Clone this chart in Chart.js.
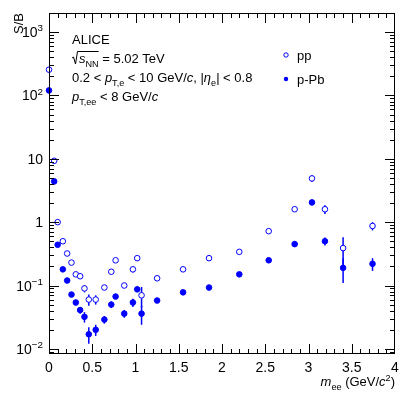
<!DOCTYPE html>
<html>
<head>
<meta charset="utf-8">
<script src="https://cdn.jsdelivr.net/npm/chart.js@4.4.1/dist/chart.umd.min.js"></script>
<style>
  body { margin: 0; background: #fff; }
</style>
</head>
<body>
<canvas id="chart" width="407" height="395"></canvas>
<script>
// m_ee bin centres (GeV/c^2), shared by both systems
const massBins = [0.0, 0.06, 0.1, 0.16, 0.21, 0.26, 0.31, 0.36, 0.41, 0.46, 0.54, 0.64, 0.72, 0.77,
  0.87, 0.97, 1.02, 1.07, 1.25, 1.55, 1.85, 2.2, 2.54, 2.84, 3.04, 3.19, 3.4, 3.74];

const ppRatio = [255, 9.3, 1.0, 0.5, 0.32, 0.23, 0.15, 0.14, 0.09, 0.06, 0.06, 0.093, 0.165, 0.25,
  0.10, 0.18, 0.27, 0.07, 0.13, 0.18, 0.27, 0.34, 0.72, 1.6, 4.9, 1.6, 0.39, 0.87];
const ppErr = [10, 0.5, 0.05, 0.03, 0.02, 0.015, 0.012, 0.012, 0.012, 0.012, 0.01, 0.008, 0.012, 0.015,
  0.008, 0.02, 0.02, 0.025, 0.008, 0.01, 0.015, 0.02, 0.04, 0.1, 0.6, 0.25, 0.19, 0.13];

const pPbRatio = [120, 4.4, 0.44, 0.18, 0.12, 0.072, 0.054, 0.041, 0.032, 0.017, 0.02, 0.029, 0.05, 0.067,
  0.036, 0.054, 0.087, 0.036, 0.058, 0.078, 0.093, 0.15, 0.25, 0.45, 2.05, 0.5, 0.19, 0.22];
const pPbErr = [5, 0.2, 0.02, 0.01, 0.008, 0.006, 0.005, 0.005, 0.006, 0.005, 0.004, 0.004, 0.006, 0.006,
  0.005, 0.008, 0.008, 0.012, 0.005, 0.006, 0.008, 0.01, 0.02, 0.03, 0.15, 0.07, 0.08, 0.05];

const yDecades = [-2, -1, 0, 1, 2, 3];
const seriesNames = ["pp", "p-Pb"];

const BLUE = "#0000ff";
const FONT = '"Liberation Sans", Arial, sans-serif';

// draw a run of text pieces: [text, style] with style n / i / sub / isub / sup
function richWidth(ctx, parts, size) {
  let w = 0;
  parts.forEach(([t, s]) => {
    const small = s === "sub" || s === "isub" || s === "sup";
    const italic = s === "i" || s === "isub";
    ctx.font = `${italic ? "italic " : ""}${small ? size * 0.7 : size}px ${FONT}`;
    w += ctx.measureText(t).width;
  });
  return w;
}

function drawRich(ctx, x, y, parts, size) {
  ctx.textAlign = "left";
  ctx.textBaseline = "alphabetic";
  parts.forEach(([t, s]) => {
    const small = s === "sub" || s === "isub" || s === "sup";
    const italic = s === "i" || s === "isub";
    ctx.font = `${italic ? "italic " : ""}${small ? size * 0.7 : size}px ${FONT}`;
    let dy = 0;
    if (s === "sub" || s === "isub") dy = size * 0.32;
    if (s === "sup") dy = -size * 0.42;
    ctx.fillText(t, x, y + dy);
    x += ctx.measureText(t).width;
  });
  return x;
}

const framePlugin = {
  id: "frame",
  beforeDatasetsDraw(chart) {
    const { ctx, chartArea: a } = chart;
    const ys = chart.scales.y;
    const errs = [ppErr, pPbErr];
    const vals = [ppRatio, pPbRatio];
    ctx.save();
    ctx.beginPath();
    ctx.rect(a.left, a.top, a.right - a.left, a.bottom - a.top);
    ctx.clip();
    ctx.strokeStyle = BLUE;
    ctx.lineWidth = 1.5;
    [0, 1].forEach((d) => {
      const meta = chart.getDatasetMeta(d);
      meta.data.forEach((pt, i) => {
        const hi = ys.getPixelForValue(vals[d][i] + errs[d][i]);
        const lo = ys.getPixelForValue(Math.max(vals[d][i] - errs[d][i], 1e-4));
        ctx.beginPath();
        ctx.moveTo(pt.x, hi);
        ctx.lineTo(pt.x, lo);
        ctx.stroke();
      });
    });
    ctx.restore();
  },
  afterDraw(chart) {
    const { ctx, chartArea: a } = chart;
    const xs = chart.scales.x;
    const ys = chart.scales.y;
    ctx.save();
    ctx.strokeStyle = "#000";
    ctx.lineWidth = 1;
    ctx.strokeRect(a.left + 0.5, a.top + 0.5, a.right - a.left - 1, a.bottom - a.top - 1);

    // x ticks, inside, bottom and top
    ctx.beginPath();
    for (let i = 1; i < 40; i++) {
      const px = Math.round(xs.getPixelForValue(i * 0.1)) + 0.5;
      const len = i % 5 === 0 ? 10 : 5;
      ctx.moveTo(px, a.bottom);
      ctx.lineTo(px, a.bottom - len);
      ctx.moveTo(px, a.top);
      ctx.lineTo(px, a.top + len);
    }
    // y log ticks, inside, left and right
    for (let d = -3; d <= 3; d++) {
      for (let k = 1; k <= 9; k++) {
        const v = k * Math.pow(10, d);
        if (v < ys.min || v > ys.max) continue;
        const py = Math.round(ys.getPixelForValue(v)) + 0.5;
        const len = k === 1 ? 10 : 5;
        ctx.moveTo(a.left, py);
        ctx.lineTo(a.left + len, py);
        ctx.moveTo(a.right, py);
        ctx.lineTo(a.right - len, py);
      }
    }
    ctx.stroke();

    // y tick labels 10^n
    ctx.fillStyle = "#000";
    yDecades.forEach((d) => {
      const py = ys.getPixelForValue(Math.pow(10, d));
      let parts;
      if (d === 0) parts = [["1", "n"]];
      else if (d === 1) parts = [["10", "n"]];
      else parts = [["10", "n"], [d < 0 ? "\u2212" + (-d) : String(d), "sup"]];
      const w = richWidth(ctx, parts, 14);
      drawRich(ctx, a.left - 6 - w, py + 5, parts, 14);
    });

    // axis titles
    ctx.save();
    ctx.translate(23, a.top);
    ctx.rotate(-Math.PI / 2);
    ctx.font = `13px ${FONT}`;
    ctx.textAlign = "right";
    ctx.fillText("S/B", 0, 0);
    ctx.restore();

    const xTitle = [["m", "i"], ["ee", "sub"], [" (GeV/", "n"], ["c", "i"], ["2", "sup"], [")", "n"]];
    drawRich(ctx, a.right - richWidth(ctx, xTitle, 13), 386, xTitle, 13);

    // info text
    const tx = 72;
    drawRich(ctx, tx, 44, [["ALICE", "n"]], 13);
    // sqrt(s_NN)
    ctx.beginPath();
    ctx.lineWidth = 1;
    ctx.moveTo(tx, 58);
    ctx.lineTo(tx + 1.5, 57);
    ctx.lineTo(tx + 3.5, 64);
    ctx.lineTo(tx + 5.5, 51.5);
    const sw = richWidth(ctx, [["s", "i"], ["NN", "sub"]], 13);
    ctx.lineTo(tx + 7 + sw, 51.5);
    ctx.stroke();
    drawRich(ctx, tx + 7, 63, [["s", "i"], ["NN", "sub"], [" = 5.02 TeV", "n"]], 13);
    drawRich(ctx, tx, 82, [["0.2 < ", "n"], ["p", "i"], ["T,e", "sub"], [" < 10 GeV/", "n"], ["c", "i"],
      [", |", "n"], ["\u03b7", "i"], ["e", "sub"], ["| < 0.8", "n"]], 13);
    drawRich(ctx, tx, 101, [["p", "i"], ["T,ee", "sub"], [" < 8 GeV/", "n"], ["c", "i"]], 13);

    // legend
    const legY = [55, 79];
    legY.forEach((ly, i) => {
      ctx.beginPath();
      ctx.arc(286, ly, 2.2, 0, Math.PI * 2);
      if (i === 0) {
        ctx.strokeStyle = BLUE;
        ctx.stroke();
      } else {
        ctx.fillStyle = BLUE;
        ctx.fill();
      }
      ctx.fillStyle = "#000";
      drawRich(ctx, 297, ly + 5, [[seriesNames[i], "n"]], 13);
    });
    ctx.restore();
  },
};

const toPoints = (vals) => massBins.map((m, i) => ({ x: m, y: vals[i] }));

const config = {
  type: "scatter",
  data: {
    datasets: [
      {
        label: seriesNames[0],
        data: toPoints(ppRatio),
        pointStyle: "circle",
        pointRadius: 2.8,
        borderWidth: 1,
        borderColor: BLUE,
        backgroundColor: "#fff",
        clip: false,
      },
      {
        label: seriesNames[1],
        data: toPoints(pPbRatio),
        pointStyle: "circle",
        pointRadius: 2.8,
        borderWidth: 1,
        borderColor: BLUE,
        backgroundColor: BLUE,
        clip: false,
      },
    ],
  },
  options: {
    responsive: false,
    animation: false,
    devicePixelRatio: 1,
    layout: { padding: { top: 13, right: 12, left: 0, bottom: 0 } },
    plugins: { legend: { display: false }, tooltip: { enabled: false } },
    scales: {
      x: {
        type: "linear",
        min: 0,
        max: 4,
        grid: { display: false, drawTicks: false },
        border: { display: false },
        ticks: {
          stepSize: 0.5,
          padding: 6,
          color: "#000",
          font: { family: FONT, size: 14 },
          maxRotation: 0,
          callback: (v) => String(v),
        },
        afterFit: (scale) => { scale.height = 41; },
      },
      y: {
        type: "logarithmic",
        min: 0.0083,
        max: 2000,
        grid: { display: false },
        border: { display: false },
        ticks: { display: false },
        afterFit: (scale) => { scale.width = 49; },
      },
    },
  },
  plugins: [framePlugin],
};

new Chart(document.getElementById("chart"), config);
</script>
</body>
</html>
